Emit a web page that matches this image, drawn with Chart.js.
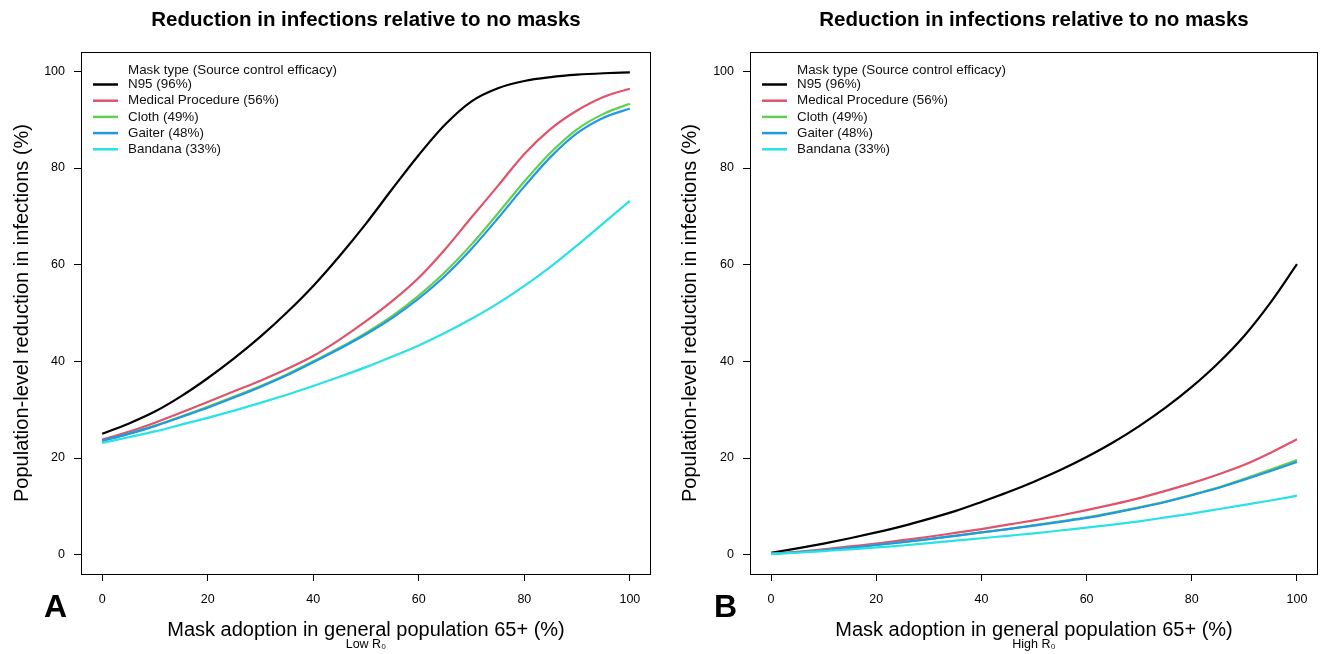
<!DOCTYPE html>
<html>
<head>
<meta charset="utf-8">
<script src="https://cdn.jsdelivr.net/npm/chart.js@4.4.1/dist/chart.umd.min.js"></script>
<style>
  body { margin: 0; background: #fff; }
  .panel { position: absolute; top: 0; width: 662px; height: 654px; }
  .tag { position: absolute; top: 590px; font: bold 32px "Liberation Sans", Arial, sans-serif; line-height: 32px; color: #000; }
</style>
</head>
<body>
<div class="panel" style="left:0"><canvas id="chartA" width="662" height="654"></canvas></div>
<div class="panel" style="left:662px"><canvas id="chartB" width="662" height="654"></canvas></div>
<div class="tag" style="left:44px">A</div>
<div class="tag" style="left:714px">B</div>
<script>
// mask adoption (%) along the x axis
var adoption = [0, 5, 10, 15, 20, 25, 30, 35, 40, 45, 50, 55, 60, 65, 70, 75, 80, 85, 90, 95, 100];
var xTicks = [0, 20, 40, 60, 80, 100];
var yTicks = [0, 20, 40, 60, 80, 100];

var maskLabels = ['N95 (96%)', 'Medical Procedure (56%)', 'Cloth (49%)', 'Gaiter (48%)', 'Bandana (33%)'];
var maskColors = ['#000000', '#DF536B', '#61D04F', '#2297E6', '#28E2E5'];
var legendTitle = 'Mask type (Source control efficacy)';

// panel A - low R0
var lowN95     = [25.0, 27.1, 29.6, 32.8, 36.5, 40.6, 45.1, 50.1, 55.6, 61.8, 68.5, 75.7, 82.7, 89.0, 93.8, 96.5, 98.0, 98.8, 99.3, 99.6, 99.8];
var lowMedical = [23.8, 25.4, 27.3, 29.4, 31.6, 33.8, 36.0, 38.4, 41.1, 44.5, 48.3, 52.5, 57.3, 63.2, 69.8, 76.3, 82.9, 88.1, 91.9, 94.7, 96.4];
var lowCloth   = [23.5, 25.0, 26.7, 28.6, 30.6, 32.7, 34.9, 37.3, 40.0, 42.8, 45.9, 49.4, 53.6, 58.5, 64.2, 70.6, 77.2, 83.2, 88.0, 91.2, 93.3];
var lowGaiter  = [23.6, 25.0, 26.6, 28.5, 30.4, 32.5, 34.7, 37.1, 39.8, 42.6, 45.6, 49.0, 53.0, 57.7, 63.3, 69.6, 76.2, 82.3, 87.2, 90.4, 92.3];
var lowBandana = [23.1, 24.3, 25.5, 26.9, 28.3, 29.8, 31.4, 33.1, 34.9, 36.8, 38.8, 41.0, 43.3, 45.9, 48.8, 52.0, 55.6, 59.6, 64.0, 68.6, 73.2];

// panel B - high R0
var highN95     = [0.4, 1.3, 2.3, 3.4, 4.6, 5.9, 7.4, 9.0, 10.9, 12.9, 15.1, 17.5, 20.2, 23.2, 26.6, 30.4, 34.7, 39.6, 45.3, 52.2, 60.1];
var highMedical = [0.2, 0.6, 1.1, 1.7, 2.3, 3.0, 3.7, 4.5, 5.3, 6.2, 7.1, 8.1, 9.2, 10.4, 11.7, 13.2, 14.8, 16.6, 18.6, 21.1, 23.9];
var highCloth   = [0.2, 0.5, 0.9, 1.4, 2.0, 2.6, 3.2, 3.9, 4.6, 5.3, 6.1, 6.9, 7.7, 8.7, 9.8, 11.0, 12.4, 13.9, 15.7, 17.6, 19.6];
var highGaiter  = [0.2, 0.5, 0.9, 1.4, 2.0, 2.6, 3.2, 3.9, 4.6, 5.3, 6.0, 6.8, 7.6, 8.6, 9.7, 10.9, 12.3, 13.8, 15.5, 17.3, 19.2];
var highBandana = [0.1, 0.4, 0.75, 1.1, 1.5, 1.9, 2.4, 2.9, 3.4, 3.9, 4.4, 5.0, 5.6, 6.2, 6.9, 7.7, 8.5, 9.4, 10.3, 11.2, 12.2];

var FONT = '"Liberation Sans", Arial, sans-serif';

// R-style box + legend inside the plot
var boxLegend = {
    id: 'boxLegend',
    afterDatasetsDraw: function(chart) {
        var ctx = chart.ctx;
        var a = chart.chartArea;
        ctx.save();
        ctx.strokeStyle = '#000';
        ctx.lineWidth = 1;
        ctx.strokeRect(a.left + 0.5, a.top + 0.5, a.right - a.left - 1, a.bottom - a.top);
        ctx.font = '13.4px ' + FONT;
        ctx.fillStyle = '#111';
        ctx.textAlign = 'left';
        ctx.textBaseline = 'middle';
        ctx.fillText(legendTitle, a.left + 47, a.top + 18);
        chart.data.datasets.forEach(function(ds, i) {
            var y = a.top + 32.5 + i * 16.2;
            ctx.strokeStyle = ds.borderColor;
            ctx.lineWidth = 2.5;
            ctx.beginPath();
            ctx.moveTo(a.left + 12, y);
            ctx.lineTo(a.left + 37, y);
            ctx.stroke();
            ctx.fillText(ds.label, a.left + 47, y);
        });
        ctx.restore();
    }
};

function makeChart(id, series, subtitle, boxLeft, padRight, yTitlePad) {
    var ctx = document.getElementById(id).getContext('2d');
    return new Chart(ctx, {
        type: 'line',
        data: {
            datasets: series.map(function(vals, i) {
                return {
                    label: maskLabels[i],
                    data: adoption.map(function(x, j) { return { x: x, y: vals[j] }; }),
                    borderColor: maskColors[i],
                    borderWidth: 2.2,
                    pointRadius: 0,
                    cubicInterpolationMode: 'monotone',
                    order: 5 - i
                };
            })
        },
        options: {
            responsive: false,
            animation: false,
            layout: { padding: { left: 0, right: padRight, top: 0, bottom: 0 } },
            plugins: {
                legend: { display: false },
                tooltip: { enabled: false },
                title: {
                    display: true,
                    fullSize: false,
                    text: 'Reduction in infections relative to no masks',
                    color: '#000',
                    font: { family: FONT, size: 20.5, weight: 'bold', lineHeight: 1.2 },
                    padding: { top: 7.7, bottom: 19.7 }
                },
                subtitle: {
                    display: true,
                    fullSize: false,
                    position: 'bottom',
                    text: subtitle,
                    color: '#000',
                    font: { family: FONT, size: 12.5, lineHeight: 1.2 },
                    padding: { top: 0, bottom: 2 }
                }
            },
            scales: {
                x: {
                    type: 'linear',
                    min: -4, max: 104,
                    afterBuildTicks: function(axis) { axis.ticks = xTicks.map(function(v) { return { value: v }; }); },
                    afterFit: function(axis) { axis.height = 654 - 574 - 17; },
                    grid: { drawOnChartArea: false, drawTicks: true, tickLength: 7, color: '#000' },
                    border: { display: false },
                    ticks: { color: '#000', font: { family: FONT, size: 12.5 }, padding: 11, maxRotation: 0 },
                    title: {
                        display: true,
                        text: 'Mask adoption in general population 65+ (%)',
                        color: '#000',
                        font: { family: FONT, size: 20, lineHeight: 1.2 },
                        padding: { top: 0, bottom: -5 }
                    }
                },
                y: {
                    min: -4, max: 104,
                    afterBuildTicks: function(axis) { axis.ticks = yTicks.map(function(v) { return { value: v }; }); },
                    afterFit: function(axis) { axis.width = boxLeft; },
                    grid: { drawOnChartArea: false, drawTicks: true, tickLength: 7, color: '#000' },
                    border: { display: false },
                    ticks: { color: '#000', font: { family: FONT, size: 12.5 }, padding: 9 },
                    title: {
                        display: true,
                        text: 'Population-level reduction in infections (%)',
                        color: '#000',
                        font: { family: FONT, size: 20, lineHeight: 1.2 },
                        padding: { top: yTitlePad, bottom: 0 }
                    }
                }
            }
        },
        plugins: [boxLegend]
    });
}

makeChart('chartA', [lowN95, lowMedical, lowCloth, lowGaiter, lowBandana], 'Low R\u2080', 81, 11, 10);
makeChart('chartB', [highN95, highMedical, highCloth, highGaiter, highBandana], 'High R\u2080', 88, 6, 16);
</script>
</body>
</html>
